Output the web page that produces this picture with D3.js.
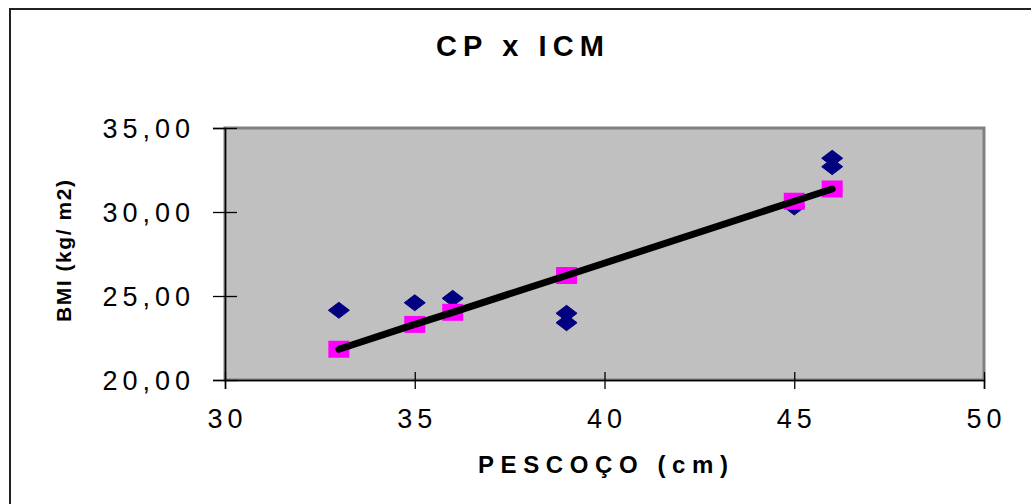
<!DOCTYPE html>
<html>
<head>
<meta charset="utf-8">
<script src="https://cdn.jsdelivr.net/npm/d3@7"></script>
<style>
  html, body { margin: 0; padding: 0; background: #fff; }
  svg { display: block; font-family: "Liberation Sans", Arial, sans-serif; }
</style>
</head>
<body>
<svg id="chart" width="1031" height="504"></svg>
<script>
// Neck circumference (cm) vs BMI (kg/m2)
const neckObserved = [33, 35, 36, 39, 39, 45, 46, 46];
const bmiObserved  = [24.15, 24.6, 24.86, 23.97, 23.41, 30.3, 33.2, 32.7];

// Fitted BMI at each measured neck size
const neckFitted = [33, 35, 36, 39, 45, 46];
const bmiFitted  = [21.83, 23.31, 24.03, 26.22, 30.64, 31.37];

const xTicks = [30, 35, 40, 45, 50];
const yTicks = [20, 25, 30, 35];

const titleText = "CP x ICM";
const xTitle = "PESCOÇO (cm)";
const yTitle = "BMI (kg/ m2)";

const svg = d3.select("#chart");
const W = 1031, H = 504;
const plot = { left: 225, right: 984, top: 128, bottom: 380 };

const x = d3.scaleLinear().domain([30, 50]).range([plot.left, plot.right]);
const y = d3.scaleLinear().domain([20, 35]).range([plot.bottom, plot.top]);

const ptBR = d3.formatLocale({ decimal: ",", thousands: ".", grouping: [3], currency: ["R$", ""] });
const fmtY = ptBR.format(".2f");

// chart frame
svg.append("rect")
  .attr("x", 10).attr("y", 9)
  .attr("width", W + 20).attr("height", H + 20)
  .attr("fill", "#fff").attr("stroke", "#222").attr("stroke-width", 2);

// plot area
svg.append("rect")
  .attr("x", plot.left).attr("y", plot.top)
  .attr("width", plot.right - plot.left).attr("height", plot.bottom - plot.top)
  .attr("fill", "#c0c0c0").attr("stroke", "#808080").attr("stroke-width", 3);

// axes
const yAxis = d3.axisLeft(y).tickValues(yTicks).tickFormat(fmtY).tickSizeOuter(0).tickSize(12).tickPadding(0);
const xAxis = d3.axisBottom(x).tickValues(xTicks).tickFormat(d3.format("d")).tickSizeOuter(0).tickSize(9).tickPadding(0);

const gy = svg.append("g").attr("transform", `translate(${plot.left},0)`).call(yAxis);
gy.select(".domain").attr("stroke", "#000").attr("stroke-width", 1.5);
gy.selectAll(".tick line").attr("x1", 12).attr("x2", -12).attr("stroke", "#000").attr("stroke-width", 1.3);
gy.selectAll(".tick text")
  .attr("x", -30).attr("dy", "0.35em")
  .attr("font-size", 27).attr("fill", "#000")
  .attr("font-family", "'Liberation Sans', Arial, sans-serif")
  .style("letter-spacing", "5px");

const gx = svg.append("g").attr("transform", `translate(0,${plot.bottom})`).call(xAxis);
gx.select(".domain").attr("stroke", "#000").attr("stroke-width", 1.5);
gx.selectAll(".tick line").attr("y1", -8).attr("y2", 9).attr("stroke", "#000").attr("stroke-width", 1.3);
gx.selectAll(".tick text")
  .attr("y", 29).attr("dy", "0.71em").attr("dx", 2)
  .attr("font-size", 27).attr("fill", "#000")
  .attr("font-family", "'Liberation Sans', Arial, sans-serif")
  .style("letter-spacing", "5px");

// observed points: diamonds
const obs = neckObserved.map((v, i) => ({ nx: v, b: bmiObserved[i] }));
svg.append("g").selectAll("path")
  .data(obs).join("path")
  .attr("transform", d => `translate(${x(d.nx)},${y(d.b)})`)
  .attr("d", "M0,-8L10.5,0L0,8L-10.5,0Z")
  .attr("fill", "#000080")
  .attr("stroke", "#000080").attr("stroke-width", 1).attr("stroke-linejoin", "round");

// fitted points: squares
const fit = neckFitted.map((v, i) => ({ nx: v, b: bmiFitted[i] }));
svg.append("g").selectAll("rect")
  .data(fit).join("rect")
  .attr("x", d => x(d.nx) - 10.5).attr("y", d => y(d.b) - 8.5)
  .attr("width", 21).attr("height", 17)
  .attr("fill", "#ff00ff");

// fitted line
svg.append("path")
  .datum(fit)
  .attr("d", d3.line().x(d => x(d.nx)).y(d => y(d.b)))
  .attr("fill", "none").attr("stroke", "#000")
  .attr("stroke-width", 7).attr("stroke-linecap", "round");

// titles
svg.append("text")
  .attr("x", 520).attr("y", 56)
  .attr("text-anchor", "middle")
  .attr("font-size", 29).attr("font-weight", "bold")
  .attr("textLength", 168).attr("lengthAdjust", "spacing")
  .text(titleText);

svg.append("text")
  .attr("x", 603).attr("y", 473)
  .attr("text-anchor", "middle")
  .attr("font-size", 24).attr("font-weight", "bold")
  .attr("textLength", 250).attr("lengthAdjust", "spacing")
  .text(xTitle);

svg.append("text")
  .attr("transform", "translate(71,251) rotate(-90)")
  .attr("text-anchor", "middle")
  .attr("font-size", 21).attr("font-weight", "bold")
  .attr("textLength", 142).attr("lengthAdjust", "spacing")
  .text(yTitle);
</script>
</body>
</html>
